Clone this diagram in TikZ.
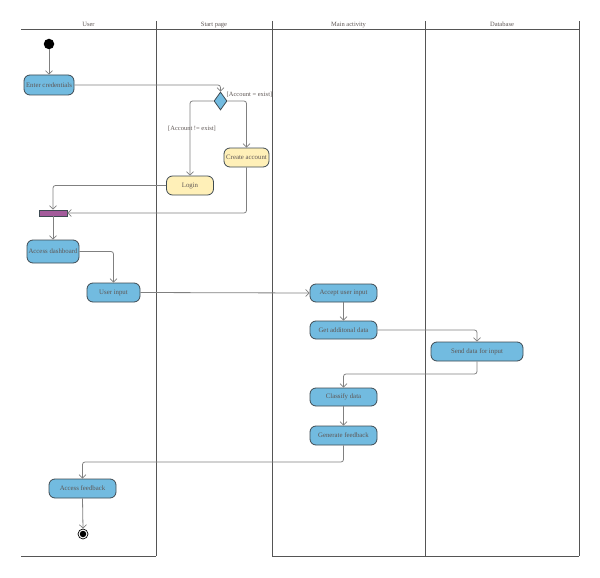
\documentclass[tikz,border=0pt]{standalone}
\usepackage{fontspec}
\setmainfont{Liberation Serif}
\usetikzlibrary{arrows.meta,shapes.geometric}
\definecolor{actfill}{HTML}{72BBE0}
\definecolor{actdraw}{HTML}{3E4A52}
\definecolor{yelfill}{HTML}{FFF0B8}
\definecolor{txt}{HTML}{5E5654}
\definecolor{lane}{HTML}{555555}
\definecolor{conn}{HTML}{808080}
\definecolor{forkc}{HTML}{A35B9B}
\tikzset{
  act/.style={draw=actdraw, fill=actfill, line width=0.8pt, rounded corners=6pt,
    inner sep=0pt, text=txt, font=\fontsize{6.8}{7}\selectfont},
  yact/.style={act, fill=yelfill},
  conn/.style={draw=conn, line width=0.8pt, rounded corners=2.5pt,
    -{Straight Barb[length=3.5pt,width=7pt,line width=0.7pt]}},
  lanel/.style={draw=lane, line width=1pt},
  hdr/.style={text=txt, font=\fontsize{6.5}{7}\selectfont, anchor=base},
  guard/.style={text=txt, font=\fontsize{6.5}{7}\selectfont, inner sep=0pt}
}
\begin{document}
\begin{tikzpicture}[x=1pt,y=-1pt]
\useasboundingbox (0,0) rectangle (600,578);
% swimlanes
\draw[lanel] (21,29.5) -- (579,29.5);
\foreach \x in {156,272,425,579} \draw[lanel] (\x,21) -- (\x,556);
\draw[lanel] (21,556) -- (156,556);
\draw[lanel] (272,556) -- (579,556);
\node[hdr] (h1) at (88.5,27) {User};
\node[hdr] (h2) at (214,27) {Start page};
\node[hdr] (h3) at (348.5,27) {Main activity};
\node[hdr] (h4) at (502,27) {Database};
% nodes
\node[circle, fill=black, inner sep=0pt, minimum size=10.5pt] (start) at (49,44) {};
\node[act, minimum width=50pt, minimum height=20pt] (enter) at (49,85) {Enter credentials};
\node[diamond, draw=actdraw, fill=actfill, line width=0.8pt, inner sep=0pt,
  minimum width=13pt, minimum height=18pt] (dec) at (220.5,101) {};
\node[guard, anchor=west] (g1) at (226.5,95) {[Account = exist]};
\node[guard] (g2) at (192,128.5) {[Account != exist]};
\node[yact, minimum width=45pt, minimum height=19pt] (create) at (246.5,157.5) {Create account};
\node[yact, minimum width=47pt, minimum height=19pt] (login) at (190,185.5) {Login};
\node[draw=actdraw, fill=forkc, line width=0.6pt, minimum width=28pt, minimum height=6pt, inner sep=0pt] (fork) at (53,213) {};
\node[act, minimum width=52pt, minimum height=23pt] (dash) at (53,251.5) {Access dashboard};
\node[act, minimum width=53pt, minimum height=19pt] (uin) at (113.5,292.5) {User input};
\node[act, minimum width=67pt, minimum height=18pt] (accept) at (343.5,293) {Accept user input};
\node[act, minimum width=67pt, minimum height=18pt] (getd) at (343.5,330) {Get additonal data};
\node[act, minimum width=92pt, minimum height=19pt] (send) at (477,351.5) {Send data for input};
\node[act, minimum width=67pt, minimum height=18pt] (classify) at (343.5,397) {Classify data};
\node[act, minimum width=67pt, minimum height=19pt] (gen) at (343.5,435.5) {Generate feedback};
\node[act, minimum width=67pt, minimum height=19pt] (afb) at (82.5,488.5) {Access feedback};
\node[circle, draw=black, fill=white, line width=0.7pt, inner sep=0pt, minimum size=10pt] (end) at (83,534) {};
\node[circle, fill=black, inner sep=0pt, minimum size=6.5pt] (endin) at (end.center) {};
\coordinate (c1) at (477,374);
\coordinate (c2) at (343.5,462);
% connectors
\draw[conn] (start) -- (enter);
\draw[conn] (enter.east) -| (dec.north);
\draw[conn] (dec.west) -| (login.north);
\draw[conn] (dec.east) -| (create.north);
\draw[conn] (login.west) -| (fork.north);
\draw[conn] (create.south) |- (fork.east);
\draw[conn] (fork.south) -- (dash.north);
\draw[conn] (dash.east) -| (uin.north);
\draw[conn] (uin.east) -- (accept.west);
\draw[conn] (accept.south) -- (getd.north);
\draw[conn] (getd.east) -| (send.north);
\draw[conn] (send.south) -- (c1) -| (classify.north);
\draw[conn] (classify.south) -- (gen.north);
\draw[conn] (gen.south) -- (c2) -| (afb.north);
\draw[conn] (afb.south) -- (end.north);
\end{tikzpicture}
\end{document}
